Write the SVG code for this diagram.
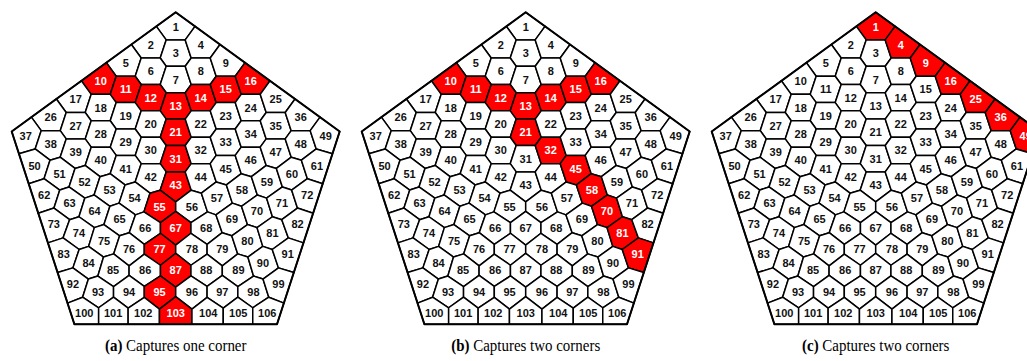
<svg xmlns="http://www.w3.org/2000/svg" xmlns:xlink="http://www.w3.org/1999/xlink" width="1027" height="361" viewBox="0 0 1027 361">
<style>
use{fill:#fff;stroke:#000;stroke-width:1.5;stroke-linejoin:round}
.r use{fill:#f00}
.ol{fill:none;stroke:#000;stroke-width:2}
text{font-family:"Liberation Sans",Arial,sans-serif;font-weight:bold;font-size:11px;text-anchor:middle;fill:#111}
.r text{fill:#fff}
.cap{font-family:"Liberation Serif","Times New Roman",serif;font-weight:normal;font-size:17px;fill:#000}
.cap .lb{font-weight:bold}
</style>
<defs>
<polygon id="h" points="15.49,4.95 9.51,13.2 -9.51,13.2 -15.49,-4.95 -9.51,-13.2 9.51,-13.2"/>
<polygon id="hm" points="-15.49,4.95 -9.51,13.2 9.51,13.2 15.49,-4.95 9.51,-13.2 -9.51,-13.2"/>
<polygon id="h0" points="9.51,-13.2 15.49,4.95 9.51,13.2 -9.51,13.2 -15.49,4.95 -9.51,-13.2"/>
<polygon id="e" points="-5.66,-18.5 19.34,-0.35 9.51,13.2 -9.51,13.2 -15.49,-4.95"/>
<polygon id="em" points="5.66,-18.5 -19.34,-0.35 -9.51,13.2 9.51,13.2 15.49,-4.95"/>
<polygon id="t1" points="0,-14.4 19.34,-0.35 9.51,13.2 -9.51,13.2 -19.34,-0.35"/>
<polygon id="r7" points="9.51,-13.2 15.55,5.1 0.68,16.33 -9.46,13.32 -15.49,-4.95 -9.51,-13.2"/>
<polygon id="r7m" points="-9.51,-13.2 -15.55,5.1 -0.68,16.33 9.46,13.32 15.49,-4.95 9.51,-13.2"/>
<polygon id="q43" points="9.51,-13.2 15.54,5.07 0,16.83 -15.54,5.07 -9.51,-13.2"/>
<polygon id="q49" points="144.34,117.1 164,131.5 156.77,153.72 140.55,148.95 134.51,130.65"/>
<polygon id="q56" points="15.54,190.17 25.68,193.18 31.8,211.86 15.25,222.71 0,211.38 0,201.93"/>
<polygon id="q57" points="40.55,181.95 50.68,184.93 56.63,203.14 40.22,214.86 31.8,211.86 25.68,193.18"/>
<polygon id="q58" points="65.55,173.7 75.68,176.68 81.63,194.94 65.77,206.27 56.63,203.14 50.68,184.93"/>
<polygon id="q59" points="90.55,165.45 100.68,168.43 106.69,186.92 90.84,198.09 81.63,194.94 75.68,176.68"/>
<polygon id="q60" points="115.55,157.2 125.68,160.18 131.69,178.72 115.92,190.05 106.69,186.92 100.68,168.43"/>
<polygon id="q61" points="140.55,148.95 156.77,153.72 147,183.75 131.69,178.72 125.68,160.18"/>
<polygon id="q67" points="0,211.38 15.25,222.71 15.25,233.28 0,245.05 -15.25,233.28 -15.25,222.71"/>
<polygon id="q68" points="31.8,211.86 40.22,214.86 46.48,232.72 31.4,244.28 15.25,233.28 15.25,222.71"/>
<polygon id="q69" points="56.63,203.14 65.77,206.27 71.77,224.56 56.05,235.79 46.48,232.72 40.22,214.86"/>
<polygon id="q70" points="81.63,194.94 90.84,198.09 96.74,216.76 81.32,227.6 71.77,224.56 65.77,206.27"/>
<polygon id="q71" points="106.69,186.92 115.92,190.05 121.74,208.03 106.08,219.68 96.74,216.76 90.84,198.09"/>
<polygon id="q72" points="131.69,178.72 147,183.75 137.43,213.17 121.74,208.03 115.92,190.05"/>
<polygon id="q78" points="15.25,233.28 31.4,244.28 31.4,254.09 15.25,265.25 0,253.31 0,245.05"/>
<polygon id="q79" points="46.48,232.72 56.05,235.79 62.04,253.9 46.6,265.91 31.4,254.09 31.4,244.28"/>
<polygon id="q80" points="71.77,224.56 81.32,227.6 87.09,246.4 72.18,257.05 62.04,253.9 56.05,235.79"/>
<polygon id="q81" points="96.74,216.76 106.08,219.68 112.6,237.87 96.55,249.49 87.09,246.4 81.32,227.6"/>
<polygon id="q82" points="121.74,208.03 137.43,213.17 127.76,242.87 112.6,237.87 106.08,219.68"/>
<polygon id="q87" points="0,253.31 15.25,265.25 15.25,275.96 0,287.03 -15.25,275.96 -15.25,265.25"/>
<polygon id="q88" points="31.4,254.09 46.6,265.91 46.6,275.34 31.4,286.31 15.25,275.96 15.25,265.25"/>
<polygon id="q89" points="62.04,253.9 72.18,257.05 77.83,276.02 62.15,286.57 46.6,275.34 46.6,265.91"/>
<polygon id="q90" points="87.09,246.4 96.55,249.49 102.78,267.88 87.3,279.06 77.83,276.02 72.18,257.05"/>
<polygon id="q91" points="112.6,237.87 127.76,242.87 118.1,272.58 102.78,267.88 96.55,249.49"/>
<polygon id="q96" points="15.25,275.96 31.4,286.31 31.4,297.33 16.25,309.09 0,296.55 0,287.03"/>
<polygon id="q97" points="46.6,275.34 62.15,286.57 62.15,297.05 47.55,308.17 31.4,297.33 31.4,286.31"/>
<polygon id="q98" points="77.83,276.02 87.3,279.06 93.09,297.22 77.05,307.76 62.15,297.05 62.15,286.57"/>
<polygon id="q99" points="102.78,267.88 118.1,272.58 108.17,303.1 93.09,297.22 87.3,279.06"/>
<polygon id="q103" points="0,296.55 16.25,309.09 16.25,324.2 -16.25,324.2 -16.25,309.09"/>
<polygon id="q104" points="31.4,297.33 47.55,308.17 47.55,324.2 16.25,324.2 16.25,309.09"/>
<polygon id="q105" points="62.15,297.05 77.05,307.76 77.05,324.2 47.55,324.2 47.55,308.17"/>
<polygon id="q106" points="93.09,297.22 108.17,303.1 101.3,324.2 77.05,324.2 77.05,307.76"/>
<polygon id="outline" points="0,12.3 164,131.5 101.3,324.2 -101.3,324.2 -164,131.5"/>
</defs>

<g id="pentA" transform="translate(175.7,0)">
<g id="a1"><use href="#t1" x="0" y="26.7"/><text x="0" y="30.7">1</text></g>
<g id="a2"><use href="#em" x="-25" y="44.85"/><text x="-25" y="48.85">2</text></g>
<g id="a3"><use href="#h0" x="0" y="53.1"/><text x="0" y="57.1">3</text></g>
<g id="a4"><use href="#e" x="25" y="44.85"/><text x="25" y="48.85">4</text></g>
<g id="a5"><use href="#em" x="-50" y="63"/><text x="-50" y="67">5</text></g>
<g id="a6"><use href="#hm" x="-25" y="71.25"/><text x="-25" y="75.25">6</text></g>
<g id="a7"><use href="#h0" x="0" y="79.5"/><text x="0" y="83.5">7</text></g>
<g id="a8"><use href="#h" x="25" y="71.25"/><text x="25" y="75.25">8</text></g>
<g id="a9"><use href="#e" x="50" y="63"/><text x="50" y="67">9</text></g>
<g id="a10" class="r"><use href="#em" x="-75" y="81.15"/><text x="-75" y="85.15">10</text></g>
<g id="a11" class="r"><use href="#hm" x="-50" y="89.4"/><text x="-50" y="93.4">11</text></g>
<g id="a12" class="r"><use href="#hm" x="-25" y="97.65"/><text x="-25" y="101.65">12</text></g>
<g id="a13" class="r"><use href="#h0" x="0" y="105.9"/><text x="0" y="109.9">13</text></g>
<g id="a14" class="r"><use href="#h" x="25" y="97.65"/><text x="25" y="101.65">14</text></g>
<g id="a15" class="r"><use href="#h" x="50" y="89.4"/><text x="50" y="93.4">15</text></g>
<g id="a16" class="r"><use href="#e" x="75" y="81.15"/><text x="75" y="85.15">16</text></g>
<g id="a17"><use href="#em" x="-100" y="99.3"/><text x="-100" y="103.3">17</text></g>
<g id="a18"><use href="#hm" x="-75" y="107.55"/><text x="-75" y="111.55">18</text></g>
<g id="a19"><use href="#hm" x="-50" y="115.8"/><text x="-50" y="119.8">19</text></g>
<g id="a20"><use href="#hm" x="-25" y="124.05"/><text x="-25" y="128.05">20</text></g>
<g id="a21" class="r"><use href="#h0" x="0" y="132.3"/><text x="0" y="136.3">21</text></g>
<g id="a22"><use href="#h" x="25" y="124.05"/><text x="25" y="128.05">22</text></g>
<g id="a23"><use href="#h" x="50" y="115.8"/><text x="50" y="119.8">23</text></g>
<g id="a24"><use href="#h" x="75" y="107.55"/><text x="75" y="111.55">24</text></g>
<g id="a25"><use href="#e" x="100" y="99.3"/><text x="100" y="103.3">25</text></g>
<g id="a26"><use href="#em" x="-125" y="117.45"/><text x="-125" y="121.45">26</text></g>
<g id="a27"><use href="#hm" x="-100" y="125.7"/><text x="-100" y="129.7">27</text></g>
<g id="a28"><use href="#hm" x="-75" y="133.95"/><text x="-75" y="137.95">28</text></g>
<g id="a29"><use href="#hm" x="-50" y="142.2"/><text x="-50" y="146.2">29</text></g>
<g id="a30"><use href="#hm" x="-25" y="150.45"/><text x="-25" y="154.45">30</text></g>
<g id="a31" class="r"><use href="#h0" x="0" y="158.7"/><text x="0" y="162.7">31</text></g>
<g id="a32"><use href="#h" x="25" y="150.45"/><text x="25" y="154.45">32</text></g>
<g id="a33"><use href="#h" x="50" y="142.2"/><text x="50" y="146.2">33</text></g>
<g id="a34"><use href="#h" x="75" y="133.95"/><text x="75" y="137.95">34</text></g>
<g id="a35"><use href="#h" x="100" y="125.7"/><text x="100" y="129.7">35</text></g>
<g id="a36"><use href="#e" x="125" y="117.45"/><text x="125" y="121.45">36</text></g>
<g id="a37"><use href="#q49" transform="scale(-1,1)"/><text x="-150" y="139.6">37</text></g>
<g id="a38"><use href="#r7m" x="-125" y="143.85"/><text x="-125" y="147.85">38</text></g>
<g id="a39"><use href="#r7m" x="-100" y="152.1"/><text x="-100" y="156.1">39</text></g>
<g id="a40"><use href="#r7m" x="-75" y="160.35"/><text x="-75" y="164.35">40</text></g>
<g id="a41"><use href="#r7m" x="-50" y="168.6"/><text x="-50" y="172.6">41</text></g>
<g id="a42"><use href="#r7m" x="-25" y="176.85"/><text x="-25" y="180.85">42</text></g>
<g id="a43" class="r"><use href="#q43" x="0" y="185.1"/><text x="0" y="189.1">43</text></g>
<g id="a44"><use href="#r7" x="25" y="176.85"/><text x="25" y="180.85">44</text></g>
<g id="a45"><use href="#r7" x="50" y="168.6"/><text x="50" y="172.6">45</text></g>
<g id="a46"><use href="#r7" x="75" y="160.35"/><text x="75" y="164.35">46</text></g>
<g id="a47"><use href="#r7" x="100" y="152.1"/><text x="100" y="156.1">47</text></g>
<g id="a48"><use href="#r7" x="125" y="143.85"/><text x="125" y="147.85">48</text></g>
<g id="a49"><use href="#q49"/><text x="150" y="139.6">49</text></g>
<g id="a50"><use href="#q61" transform="scale(-1,1)"/><text x="-141.2" y="169.5">50</text></g>
<g id="a51"><use href="#q60" transform="scale(-1,1)"/><text x="-116.2" y="177.7">51</text></g>
<g id="a52"><use href="#q59" transform="scale(-1,1)"/><text x="-91.2" y="185.9">52</text></g>
<g id="a53"><use href="#q58" transform="scale(-1,1)"/><text x="-66.2" y="194.1">53</text></g>
<g id="a54"><use href="#q57" transform="scale(-1,1)"/><text x="-41.2" y="202.3">54</text></g>
<g id="a55" class="r"><use href="#q56" transform="scale(-1,1)"/><text x="-16.2" y="210.5">55</text></g>
<g id="a56"><use href="#q56"/><text x="16.2" y="210.5">56</text></g>
<g id="a57"><use href="#q57"/><text x="41.2" y="202.3">57</text></g>
<g id="a58"><use href="#q58"/><text x="66.2" y="194.1">58</text></g>
<g id="a59"><use href="#q59"/><text x="91.2" y="185.9">59</text></g>
<g id="a60"><use href="#q60"/><text x="116.2" y="177.7">60</text></g>
<g id="a61"><use href="#q61"/><text x="141.2" y="169.5">61</text></g>
<g id="a62"><use href="#q72" transform="scale(-1,1)"/><text x="-131.5" y="199">62</text></g>
<g id="a63"><use href="#q71" transform="scale(-1,1)"/><text x="-106.2" y="207.2">63</text></g>
<g id="a64"><use href="#q70" transform="scale(-1,1)"/><text x="-81.2" y="215.1">64</text></g>
<g id="a65"><use href="#q69" transform="scale(-1,1)"/><text x="-56.2" y="223.3">65</text></g>
<g id="a66"><use href="#q68" transform="scale(-1,1)"/><text x="-30.5" y="232.3">66</text></g>
<g id="a67" class="r"><use href="#q67"/><text x="0" y="232.3">67</text></g>
<g id="a68"><use href="#q68"/><text x="30.5" y="232.3">68</text></g>
<g id="a69"><use href="#q69"/><text x="56.2" y="223.3">69</text></g>
<g id="a70"><use href="#q70"/><text x="81.2" y="215.1">70</text></g>
<g id="a71"><use href="#q71"/><text x="106.2" y="207.2">71</text></g>
<g id="a72"><use href="#q72"/><text x="131.5" y="199">72</text></g>
<g id="a73"><use href="#q82" transform="scale(-1,1)"/><text x="-121.9" y="228.3">73</text></g>
<g id="a74"><use href="#q81" transform="scale(-1,1)"/><text x="-96.8" y="237.3">74</text></g>
<g id="a75"><use href="#q80" transform="scale(-1,1)"/><text x="-71.7" y="245">75</text></g>
<g id="a76"><use href="#q79" transform="scale(-1,1)"/><text x="-46.6" y="253.3">76</text></g>
<g id="a77" class="r"><use href="#q78" transform="scale(-1,1)"/><text x="-16.2" y="253.3">77</text></g>
<g id="a78"><use href="#q78"/><text x="16.2" y="253.3">78</text></g>
<g id="a79"><use href="#q79"/><text x="46.6" y="253.3">79</text></g>
<g id="a80"><use href="#q80"/><text x="71.7" y="245">80</text></g>
<g id="a81"><use href="#q81"/><text x="96.8" y="237.3">81</text></g>
<g id="a82"><use href="#q82"/><text x="121.9" y="228.3">82</text></g>
<g id="a83"><use href="#q91" transform="scale(-1,1)"/><text x="-112" y="258.3">83</text></g>
<g id="a84"><use href="#q90" transform="scale(-1,1)"/><text x="-87.2" y="266.7">84</text></g>
<g id="a85"><use href="#q89" transform="scale(-1,1)"/><text x="-62.7" y="274">85</text></g>
<g id="a86"><use href="#q88" transform="scale(-1,1)"/><text x="-30.5" y="274">86</text></g>
<g id="a87" class="r"><use href="#q87"/><text x="0" y="274">87</text></g>
<g id="a88"><use href="#q88"/><text x="30.5" y="274">88</text></g>
<g id="a89"><use href="#q89"/><text x="62.7" y="274">89</text></g>
<g id="a90"><use href="#q90"/><text x="87.2" y="266.7">90</text></g>
<g id="a91"><use href="#q91"/><text x="112" y="258.3">91</text></g>
<g id="a92"><use href="#q99" transform="scale(-1,1)"/><text x="-102.8" y="288.3">92</text></g>
<g id="a93"><use href="#q98" transform="scale(-1,1)"/><text x="-77.7" y="296.3">93</text></g>
<g id="a94"><use href="#q97" transform="scale(-1,1)"/><text x="-46.6" y="296.3">94</text></g>
<g id="a95" class="r"><use href="#q96" transform="scale(-1,1)"/><text x="-16.2" y="296.3">95</text></g>
<g id="a96"><use href="#q96"/><text x="16.2" y="296.3">96</text></g>
<g id="a97"><use href="#q97"/><text x="46.6" y="296.3">97</text></g>
<g id="a98"><use href="#q98"/><text x="77.7" y="296.3">98</text></g>
<g id="a99"><use href="#q99"/><text x="102.8" y="288.3">99</text></g>
<g id="a100"><use href="#q106" transform="scale(-1,1)"/><text x="-91.5" y="317.3">100</text></g>
<g id="a101"><use href="#q105" transform="scale(-1,1)"/><text x="-62.6" y="317.3">101</text></g>
<g id="a102"><use href="#q104" transform="scale(-1,1)"/><text x="-32.5" y="317.3">102</text></g>
<g id="a103" class="r"><use href="#q103"/><text x="0" y="317.3">103</text></g>
<g id="a104"><use href="#q104"/><text x="32.5" y="317.3">104</text></g>
<g id="a105"><use href="#q105"/><text x="62.6" y="317.3">105</text></g>
<g id="a106"><use href="#q106"/><text x="91.5" y="317.3">106</text></g>
<use href="#outline" class="ol"/>
</g>

<g id="pentB" transform="translate(525.7,0)">
<g id="b1"><use href="#t1" x="0" y="26.7"/><text x="0" y="30.7">1</text></g>
<g id="b2"><use href="#em" x="-25" y="44.85"/><text x="-25" y="48.85">2</text></g>
<g id="b3"><use href="#h0" x="0" y="53.1"/><text x="0" y="57.1">3</text></g>
<g id="b4"><use href="#e" x="25" y="44.85"/><text x="25" y="48.85">4</text></g>
<g id="b5"><use href="#em" x="-50" y="63"/><text x="-50" y="67">5</text></g>
<g id="b6"><use href="#hm" x="-25" y="71.25"/><text x="-25" y="75.25">6</text></g>
<g id="b7"><use href="#h0" x="0" y="79.5"/><text x="0" y="83.5">7</text></g>
<g id="b8"><use href="#h" x="25" y="71.25"/><text x="25" y="75.25">8</text></g>
<g id="b9"><use href="#e" x="50" y="63"/><text x="50" y="67">9</text></g>
<g id="b10" class="r"><use href="#em" x="-75" y="81.15"/><text x="-75" y="85.15">10</text></g>
<g id="b11" class="r"><use href="#hm" x="-50" y="89.4"/><text x="-50" y="93.4">11</text></g>
<g id="b12" class="r"><use href="#hm" x="-25" y="97.65"/><text x="-25" y="101.65">12</text></g>
<g id="b13" class="r"><use href="#h0" x="0" y="105.9"/><text x="0" y="109.9">13</text></g>
<g id="b14" class="r"><use href="#h" x="25" y="97.65"/><text x="25" y="101.65">14</text></g>
<g id="b15" class="r"><use href="#h" x="50" y="89.4"/><text x="50" y="93.4">15</text></g>
<g id="b16" class="r"><use href="#e" x="75" y="81.15"/><text x="75" y="85.15">16</text></g>
<g id="b17"><use href="#em" x="-100" y="99.3"/><text x="-100" y="103.3">17</text></g>
<g id="b18"><use href="#hm" x="-75" y="107.55"/><text x="-75" y="111.55">18</text></g>
<g id="b19"><use href="#hm" x="-50" y="115.8"/><text x="-50" y="119.8">19</text></g>
<g id="b20"><use href="#hm" x="-25" y="124.05"/><text x="-25" y="128.05">20</text></g>
<g id="b21" class="r"><use href="#h0" x="0" y="132.3"/><text x="0" y="136.3">21</text></g>
<g id="b22"><use href="#h" x="25" y="124.05"/><text x="25" y="128.05">22</text></g>
<g id="b23"><use href="#h" x="50" y="115.8"/><text x="50" y="119.8">23</text></g>
<g id="b24"><use href="#h" x="75" y="107.55"/><text x="75" y="111.55">24</text></g>
<g id="b25"><use href="#e" x="100" y="99.3"/><text x="100" y="103.3">25</text></g>
<g id="b26"><use href="#em" x="-125" y="117.45"/><text x="-125" y="121.45">26</text></g>
<g id="b27"><use href="#hm" x="-100" y="125.7"/><text x="-100" y="129.7">27</text></g>
<g id="b28"><use href="#hm" x="-75" y="133.95"/><text x="-75" y="137.95">28</text></g>
<g id="b29"><use href="#hm" x="-50" y="142.2"/><text x="-50" y="146.2">29</text></g>
<g id="b30"><use href="#hm" x="-25" y="150.45"/><text x="-25" y="154.45">30</text></g>
<g id="b31"><use href="#h0" x="0" y="158.7"/><text x="0" y="162.7">31</text></g>
<g id="b32" class="r"><use href="#h" x="25" y="150.45"/><text x="25" y="154.45">32</text></g>
<g id="b33"><use href="#h" x="50" y="142.2"/><text x="50" y="146.2">33</text></g>
<g id="b34"><use href="#h" x="75" y="133.95"/><text x="75" y="137.95">34</text></g>
<g id="b35"><use href="#h" x="100" y="125.7"/><text x="100" y="129.7">35</text></g>
<g id="b36"><use href="#e" x="125" y="117.45"/><text x="125" y="121.45">36</text></g>
<g id="b37"><use href="#q49" transform="scale(-1,1)"/><text x="-150" y="139.6">37</text></g>
<g id="b38"><use href="#r7m" x="-125" y="143.85"/><text x="-125" y="147.85">38</text></g>
<g id="b39"><use href="#r7m" x="-100" y="152.1"/><text x="-100" y="156.1">39</text></g>
<g id="b40"><use href="#r7m" x="-75" y="160.35"/><text x="-75" y="164.35">40</text></g>
<g id="b41"><use href="#r7m" x="-50" y="168.6"/><text x="-50" y="172.6">41</text></g>
<g id="b42"><use href="#r7m" x="-25" y="176.85"/><text x="-25" y="180.85">42</text></g>
<g id="b43"><use href="#q43" x="0" y="185.1"/><text x="0" y="189.1">43</text></g>
<g id="b44"><use href="#r7" x="25" y="176.85"/><text x="25" y="180.85">44</text></g>
<g id="b45" class="r"><use href="#r7" x="50" y="168.6"/><text x="50" y="172.6">45</text></g>
<g id="b46"><use href="#r7" x="75" y="160.35"/><text x="75" y="164.35">46</text></g>
<g id="b47"><use href="#r7" x="100" y="152.1"/><text x="100" y="156.1">47</text></g>
<g id="b48"><use href="#r7" x="125" y="143.85"/><text x="125" y="147.85">48</text></g>
<g id="b49"><use href="#q49"/><text x="150" y="139.6">49</text></g>
<g id="b50"><use href="#q61" transform="scale(-1,1)"/><text x="-141.2" y="169.5">50</text></g>
<g id="b51"><use href="#q60" transform="scale(-1,1)"/><text x="-116.2" y="177.7">51</text></g>
<g id="b52"><use href="#q59" transform="scale(-1,1)"/><text x="-91.2" y="185.9">52</text></g>
<g id="b53"><use href="#q58" transform="scale(-1,1)"/><text x="-66.2" y="194.1">53</text></g>
<g id="b54"><use href="#q57" transform="scale(-1,1)"/><text x="-41.2" y="202.3">54</text></g>
<g id="b55"><use href="#q56" transform="scale(-1,1)"/><text x="-16.2" y="210.5">55</text></g>
<g id="b56"><use href="#q56"/><text x="16.2" y="210.5">56</text></g>
<g id="b57"><use href="#q57"/><text x="41.2" y="202.3">57</text></g>
<g id="b58" class="r"><use href="#q58"/><text x="66.2" y="194.1">58</text></g>
<g id="b59"><use href="#q59"/><text x="91.2" y="185.9">59</text></g>
<g id="b60"><use href="#q60"/><text x="116.2" y="177.7">60</text></g>
<g id="b61"><use href="#q61"/><text x="141.2" y="169.5">61</text></g>
<g id="b62"><use href="#q72" transform="scale(-1,1)"/><text x="-131.5" y="199">62</text></g>
<g id="b63"><use href="#q71" transform="scale(-1,1)"/><text x="-106.2" y="207.2">63</text></g>
<g id="b64"><use href="#q70" transform="scale(-1,1)"/><text x="-81.2" y="215.1">64</text></g>
<g id="b65"><use href="#q69" transform="scale(-1,1)"/><text x="-56.2" y="223.3">65</text></g>
<g id="b66"><use href="#q68" transform="scale(-1,1)"/><text x="-30.5" y="232.3">66</text></g>
<g id="b67"><use href="#q67"/><text x="0" y="232.3">67</text></g>
<g id="b68"><use href="#q68"/><text x="30.5" y="232.3">68</text></g>
<g id="b69"><use href="#q69"/><text x="56.2" y="223.3">69</text></g>
<g id="b70" class="r"><use href="#q70"/><text x="81.2" y="215.1">70</text></g>
<g id="b71"><use href="#q71"/><text x="106.2" y="207.2">71</text></g>
<g id="b72"><use href="#q72"/><text x="131.5" y="199">72</text></g>
<g id="b73"><use href="#q82" transform="scale(-1,1)"/><text x="-121.9" y="228.3">73</text></g>
<g id="b74"><use href="#q81" transform="scale(-1,1)"/><text x="-96.8" y="237.3">74</text></g>
<g id="b75"><use href="#q80" transform="scale(-1,1)"/><text x="-71.7" y="245">75</text></g>
<g id="b76"><use href="#q79" transform="scale(-1,1)"/><text x="-46.6" y="253.3">76</text></g>
<g id="b77"><use href="#q78" transform="scale(-1,1)"/><text x="-16.2" y="253.3">77</text></g>
<g id="b78"><use href="#q78"/><text x="16.2" y="253.3">78</text></g>
<g id="b79"><use href="#q79"/><text x="46.6" y="253.3">79</text></g>
<g id="b80"><use href="#q80"/><text x="71.7" y="245">80</text></g>
<g id="b81" class="r"><use href="#q81"/><text x="96.8" y="237.3">81</text></g>
<g id="b82"><use href="#q82"/><text x="121.9" y="228.3">82</text></g>
<g id="b83"><use href="#q91" transform="scale(-1,1)"/><text x="-112" y="258.3">83</text></g>
<g id="b84"><use href="#q90" transform="scale(-1,1)"/><text x="-87.2" y="266.7">84</text></g>
<g id="b85"><use href="#q89" transform="scale(-1,1)"/><text x="-62.7" y="274">85</text></g>
<g id="b86"><use href="#q88" transform="scale(-1,1)"/><text x="-30.5" y="274">86</text></g>
<g id="b87"><use href="#q87"/><text x="0" y="274">87</text></g>
<g id="b88"><use href="#q88"/><text x="30.5" y="274">88</text></g>
<g id="b89"><use href="#q89"/><text x="62.7" y="274">89</text></g>
<g id="b90"><use href="#q90"/><text x="87.2" y="266.7">90</text></g>
<g id="b91" class="r"><use href="#q91"/><text x="112" y="258.3">91</text></g>
<g id="b92"><use href="#q99" transform="scale(-1,1)"/><text x="-102.8" y="288.3">92</text></g>
<g id="b93"><use href="#q98" transform="scale(-1,1)"/><text x="-77.7" y="296.3">93</text></g>
<g id="b94"><use href="#q97" transform="scale(-1,1)"/><text x="-46.6" y="296.3">94</text></g>
<g id="b95"><use href="#q96" transform="scale(-1,1)"/><text x="-16.2" y="296.3">95</text></g>
<g id="b96"><use href="#q96"/><text x="16.2" y="296.3">96</text></g>
<g id="b97"><use href="#q97"/><text x="46.6" y="296.3">97</text></g>
<g id="b98"><use href="#q98"/><text x="77.7" y="296.3">98</text></g>
<g id="b99"><use href="#q99"/><text x="102.8" y="288.3">99</text></g>
<g id="b100"><use href="#q106" transform="scale(-1,1)"/><text x="-91.5" y="317.3">100</text></g>
<g id="b101"><use href="#q105" transform="scale(-1,1)"/><text x="-62.6" y="317.3">101</text></g>
<g id="b102"><use href="#q104" transform="scale(-1,1)"/><text x="-32.5" y="317.3">102</text></g>
<g id="b103"><use href="#q103"/><text x="0" y="317.3">103</text></g>
<g id="b104"><use href="#q104"/><text x="32.5" y="317.3">104</text></g>
<g id="b105"><use href="#q105"/><text x="62.6" y="317.3">105</text></g>
<g id="b106"><use href="#q106"/><text x="91.5" y="317.3">106</text></g>
<use href="#outline" class="ol"/>
</g>

<g id="pentC" transform="translate(875.7,0)">
<g id="c1" class="r"><use href="#t1" x="0" y="26.7"/><text x="0" y="30.7">1</text></g>
<g id="c2"><use href="#em" x="-25" y="44.85"/><text x="-25" y="48.85">2</text></g>
<g id="c3"><use href="#h0" x="0" y="53.1"/><text x="0" y="57.1">3</text></g>
<g id="c4" class="r"><use href="#e" x="25" y="44.85"/><text x="25" y="48.85">4</text></g>
<g id="c5"><use href="#em" x="-50" y="63"/><text x="-50" y="67">5</text></g>
<g id="c6"><use href="#hm" x="-25" y="71.25"/><text x="-25" y="75.25">6</text></g>
<g id="c7"><use href="#h0" x="0" y="79.5"/><text x="0" y="83.5">7</text></g>
<g id="c8"><use href="#h" x="25" y="71.25"/><text x="25" y="75.25">8</text></g>
<g id="c9" class="r"><use href="#e" x="50" y="63"/><text x="50" y="67">9</text></g>
<g id="c10"><use href="#em" x="-75" y="81.15"/><text x="-75" y="85.15">10</text></g>
<g id="c11"><use href="#hm" x="-50" y="89.4"/><text x="-50" y="93.4">11</text></g>
<g id="c12"><use href="#hm" x="-25" y="97.65"/><text x="-25" y="101.65">12</text></g>
<g id="c13"><use href="#h0" x="0" y="105.9"/><text x="0" y="109.9">13</text></g>
<g id="c14"><use href="#h" x="25" y="97.65"/><text x="25" y="101.65">14</text></g>
<g id="c15"><use href="#h" x="50" y="89.4"/><text x="50" y="93.4">15</text></g>
<g id="c16" class="r"><use href="#e" x="75" y="81.15"/><text x="75" y="85.15">16</text></g>
<g id="c17"><use href="#em" x="-100" y="99.3"/><text x="-100" y="103.3">17</text></g>
<g id="c18"><use href="#hm" x="-75" y="107.55"/><text x="-75" y="111.55">18</text></g>
<g id="c19"><use href="#hm" x="-50" y="115.8"/><text x="-50" y="119.8">19</text></g>
<g id="c20"><use href="#hm" x="-25" y="124.05"/><text x="-25" y="128.05">20</text></g>
<g id="c21"><use href="#h0" x="0" y="132.3"/><text x="0" y="136.3">21</text></g>
<g id="c22"><use href="#h" x="25" y="124.05"/><text x="25" y="128.05">22</text></g>
<g id="c23"><use href="#h" x="50" y="115.8"/><text x="50" y="119.8">23</text></g>
<g id="c24"><use href="#h" x="75" y="107.55"/><text x="75" y="111.55">24</text></g>
<g id="c25" class="r"><use href="#e" x="100" y="99.3"/><text x="100" y="103.3">25</text></g>
<g id="c26"><use href="#em" x="-125" y="117.45"/><text x="-125" y="121.45">26</text></g>
<g id="c27"><use href="#hm" x="-100" y="125.7"/><text x="-100" y="129.7">27</text></g>
<g id="c28"><use href="#hm" x="-75" y="133.95"/><text x="-75" y="137.95">28</text></g>
<g id="c29"><use href="#hm" x="-50" y="142.2"/><text x="-50" y="146.2">29</text></g>
<g id="c30"><use href="#hm" x="-25" y="150.45"/><text x="-25" y="154.45">30</text></g>
<g id="c31"><use href="#h0" x="0" y="158.7"/><text x="0" y="162.7">31</text></g>
<g id="c32"><use href="#h" x="25" y="150.45"/><text x="25" y="154.45">32</text></g>
<g id="c33"><use href="#h" x="50" y="142.2"/><text x="50" y="146.2">33</text></g>
<g id="c34"><use href="#h" x="75" y="133.95"/><text x="75" y="137.95">34</text></g>
<g id="c35"><use href="#h" x="100" y="125.7"/><text x="100" y="129.7">35</text></g>
<g id="c36" class="r"><use href="#e" x="125" y="117.45"/><text x="125" y="121.45">36</text></g>
<g id="c37"><use href="#q49" transform="scale(-1,1)"/><text x="-150" y="139.6">37</text></g>
<g id="c38"><use href="#r7m" x="-125" y="143.85"/><text x="-125" y="147.85">38</text></g>
<g id="c39"><use href="#r7m" x="-100" y="152.1"/><text x="-100" y="156.1">39</text></g>
<g id="c40"><use href="#r7m" x="-75" y="160.35"/><text x="-75" y="164.35">40</text></g>
<g id="c41"><use href="#r7m" x="-50" y="168.6"/><text x="-50" y="172.6">41</text></g>
<g id="c42"><use href="#r7m" x="-25" y="176.85"/><text x="-25" y="180.85">42</text></g>
<g id="c43"><use href="#q43" x="0" y="185.1"/><text x="0" y="189.1">43</text></g>
<g id="c44"><use href="#r7" x="25" y="176.85"/><text x="25" y="180.85">44</text></g>
<g id="c45"><use href="#r7" x="50" y="168.6"/><text x="50" y="172.6">45</text></g>
<g id="c46"><use href="#r7" x="75" y="160.35"/><text x="75" y="164.35">46</text></g>
<g id="c47"><use href="#r7" x="100" y="152.1"/><text x="100" y="156.1">47</text></g>
<g id="c48"><use href="#r7" x="125" y="143.85"/><text x="125" y="147.85">48</text></g>
<g id="c49" class="r"><use href="#q49"/><text x="150" y="139.6">49</text></g>
<g id="c50"><use href="#q61" transform="scale(-1,1)"/><text x="-141.2" y="169.5">50</text></g>
<g id="c51"><use href="#q60" transform="scale(-1,1)"/><text x="-116.2" y="177.7">51</text></g>
<g id="c52"><use href="#q59" transform="scale(-1,1)"/><text x="-91.2" y="185.9">52</text></g>
<g id="c53"><use href="#q58" transform="scale(-1,1)"/><text x="-66.2" y="194.1">53</text></g>
<g id="c54"><use href="#q57" transform="scale(-1,1)"/><text x="-41.2" y="202.3">54</text></g>
<g id="c55"><use href="#q56" transform="scale(-1,1)"/><text x="-16.2" y="210.5">55</text></g>
<g id="c56"><use href="#q56"/><text x="16.2" y="210.5">56</text></g>
<g id="c57"><use href="#q57"/><text x="41.2" y="202.3">57</text></g>
<g id="c58"><use href="#q58"/><text x="66.2" y="194.1">58</text></g>
<g id="c59"><use href="#q59"/><text x="91.2" y="185.9">59</text></g>
<g id="c60"><use href="#q60"/><text x="116.2" y="177.7">60</text></g>
<g id="c61"><use href="#q61"/><text x="141.2" y="169.5">61</text></g>
<g id="c62"><use href="#q72" transform="scale(-1,1)"/><text x="-131.5" y="199">62</text></g>
<g id="c63"><use href="#q71" transform="scale(-1,1)"/><text x="-106.2" y="207.2">63</text></g>
<g id="c64"><use href="#q70" transform="scale(-1,1)"/><text x="-81.2" y="215.1">64</text></g>
<g id="c65"><use href="#q69" transform="scale(-1,1)"/><text x="-56.2" y="223.3">65</text></g>
<g id="c66"><use href="#q68" transform="scale(-1,1)"/><text x="-30.5" y="232.3">66</text></g>
<g id="c67"><use href="#q67"/><text x="0" y="232.3">67</text></g>
<g id="c68"><use href="#q68"/><text x="30.5" y="232.3">68</text></g>
<g id="c69"><use href="#q69"/><text x="56.2" y="223.3">69</text></g>
<g id="c70"><use href="#q70"/><text x="81.2" y="215.1">70</text></g>
<g id="c71"><use href="#q71"/><text x="106.2" y="207.2">71</text></g>
<g id="c72"><use href="#q72"/><text x="131.5" y="199">72</text></g>
<g id="c73"><use href="#q82" transform="scale(-1,1)"/><text x="-121.9" y="228.3">73</text></g>
<g id="c74"><use href="#q81" transform="scale(-1,1)"/><text x="-96.8" y="237.3">74</text></g>
<g id="c75"><use href="#q80" transform="scale(-1,1)"/><text x="-71.7" y="245">75</text></g>
<g id="c76"><use href="#q79" transform="scale(-1,1)"/><text x="-46.6" y="253.3">76</text></g>
<g id="c77"><use href="#q78" transform="scale(-1,1)"/><text x="-16.2" y="253.3">77</text></g>
<g id="c78"><use href="#q78"/><text x="16.2" y="253.3">78</text></g>
<g id="c79"><use href="#q79"/><text x="46.6" y="253.3">79</text></g>
<g id="c80"><use href="#q80"/><text x="71.7" y="245">80</text></g>
<g id="c81"><use href="#q81"/><text x="96.8" y="237.3">81</text></g>
<g id="c82"><use href="#q82"/><text x="121.9" y="228.3">82</text></g>
<g id="c83"><use href="#q91" transform="scale(-1,1)"/><text x="-112" y="258.3">83</text></g>
<g id="c84"><use href="#q90" transform="scale(-1,1)"/><text x="-87.2" y="266.7">84</text></g>
<g id="c85"><use href="#q89" transform="scale(-1,1)"/><text x="-62.7" y="274">85</text></g>
<g id="c86"><use href="#q88" transform="scale(-1,1)"/><text x="-30.5" y="274">86</text></g>
<g id="c87"><use href="#q87"/><text x="0" y="274">87</text></g>
<g id="c88"><use href="#q88"/><text x="30.5" y="274">88</text></g>
<g id="c89"><use href="#q89"/><text x="62.7" y="274">89</text></g>
<g id="c90"><use href="#q90"/><text x="87.2" y="266.7">90</text></g>
<g id="c91"><use href="#q91"/><text x="112" y="258.3">91</text></g>
<g id="c92"><use href="#q99" transform="scale(-1,1)"/><text x="-102.8" y="288.3">92</text></g>
<g id="c93"><use href="#q98" transform="scale(-1,1)"/><text x="-77.7" y="296.3">93</text></g>
<g id="c94"><use href="#q97" transform="scale(-1,1)"/><text x="-46.6" y="296.3">94</text></g>
<g id="c95"><use href="#q96" transform="scale(-1,1)"/><text x="-16.2" y="296.3">95</text></g>
<g id="c96"><use href="#q96"/><text x="16.2" y="296.3">96</text></g>
<g id="c97"><use href="#q97"/><text x="46.6" y="296.3">97</text></g>
<g id="c98"><use href="#q98"/><text x="77.7" y="296.3">98</text></g>
<g id="c99"><use href="#q99"/><text x="102.8" y="288.3">99</text></g>
<g id="c100"><use href="#q106" transform="scale(-1,1)"/><text x="-91.5" y="317.3">100</text></g>
<g id="c101"><use href="#q105" transform="scale(-1,1)"/><text x="-62.6" y="317.3">101</text></g>
<g id="c102"><use href="#q104" transform="scale(-1,1)"/><text x="-32.5" y="317.3">102</text></g>
<g id="c103"><use href="#q103"/><text x="0" y="317.3">103</text></g>
<g id="c104"><use href="#q104"/><text x="32.5" y="317.3">104</text></g>
<g id="c105"><use href="#q105"/><text x="62.6" y="317.3">105</text></g>
<g id="c106"><use href="#q106"/><text x="91.5" y="317.3">106</text></g>
<use href="#outline" class="ol"/>
</g>

<g id="captions">
<text class="cap" transform="translate(175.7,351) scale(0.88,1)"><tspan class="lb">(a)</tspan> Captures one corner</text>
<text class="cap" transform="translate(525.7,351) scale(0.88,1)"><tspan class="lb">(b)</tspan> Captures two corners</text>
<text class="cap" transform="translate(875.7,351) scale(0.88,1)"><tspan class="lb">(c)</tspan> Captures two corners</text>
</g>
</svg>
